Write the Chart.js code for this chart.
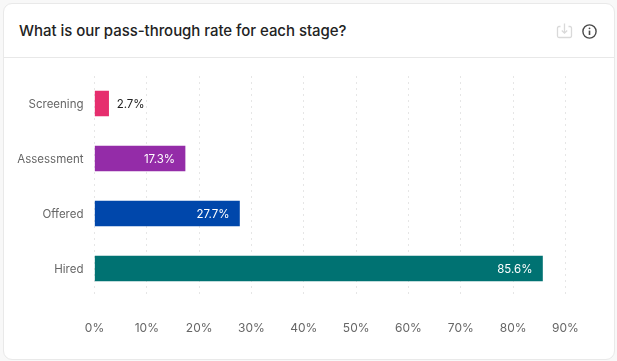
<!DOCTYPE html>
<html>
<head>
<meta charset="utf-8">
<title>Pass-through rate</title>
<script src="https://cdn.jsdelivr.net/npm/chart.js@4"></script>
<style>
  html, body { margin: 0; padding: 0; background: #f8f8f8; }
  #card { position: absolute; left: 2.5px; top: 3px; width: 610px; height: 354.5px; background: #fff;
          border: 1px solid #e9e9e9; border-radius: 9px; }
  #header { position: absolute; left: 0; right: 0; top: 0; height: 53px; border-bottom: 1px solid #e8e8e8; }
  #title { position: absolute; left: 15.5px; top: 17px; font: 500 15px/20px Inter, sans-serif; letter-spacing: -0.05px; color: #222; white-space: nowrap; }
  #download { position: absolute; left: 552px; top: 19px; }
  #info { position: absolute; left: 578.5px; top: 19.5px; }
  #chart { position: absolute; left: 0; top: 0; }
</style>
</head>
<body>
<div id="card">
  <div id="header">
    <div id="title">What is our pass-through rate for each stage?</div>
    <svg id="download" width="17" height="16" viewBox="0 0 17 16" fill="none" stroke="#d9d9d9" stroke-width="1.3">
      <path d="M4.5 3.5 H3 a1.5 1.5 0 0 0 -1.5 1.5 V13 a1.5 1.5 0 0 0 1.5 1.5 H14 a1.5 1.5 0 0 0 1.5 -1.5 V5 A1.5 1.5 0 0 0 14 3.5 H12.5"/>
      <path d="M8.5 0.5 V10 M5.8 7.5 L8.5 10.2 L11.2 7.5"/>
    </svg>
    <svg id="info" width="15" height="15" viewBox="0 0 15 15" fill="none" stroke="#4a4a4a" stroke-width="1.4">
      <circle cx="7.5" cy="7.5" r="6.6"/>
      <path d="M7.5 6.6 V11" stroke-width="1.6"/>
      <circle cx="7.5" cy="4.3" r="0.9" fill="#4a4a4a" stroke="none"/>
    </svg>
  </div>
</div>
<canvas id="chart" width="617" height="361"></canvas>
<script>
// Chart values
const stages = ['Screening', 'Assessment', 'Offered', 'Hired'];
const passRates = [2.7, 17.3, 27.7, 85.6];
const barColors = ['#e62e6e', '#942ca8', '#0047ab', '#007272'];
const tickMax = 90;
const tickStep = 10;

const FONT = 'Inter, sans-serif';

// Writes the percentage inside the bar, or next to it when the bar is too short
const valueLabels = {
  id: 'valueLabels',
  afterDatasetsDraw(chart) {
    const ctx = chart.ctx;
    ctx.save();
    ctx.font = '11.5px ' + FONT;
    ctx.textBaseline = 'middle';
    chart.getDatasetMeta(0).data.forEach((bar, i) => {
      const text = passRates[i].toFixed(1) + '%';
      if (passRates[i] < 5) {
        ctx.fillStyle = '#222';
        ctx.textAlign = 'left';
        ctx.fillText(text, bar.x + 8, bar.y + 1);
      } else {
        ctx.fillStyle = '#fff';
        ctx.textAlign = 'right';
        ctx.fillText(text, bar.x - 10, bar.y + 1);
      }
    });
    ctx.restore();
  }
};

new Chart(document.getElementById('chart'), {
  type: 'bar',
  data: {
    labels: stages,
    datasets: [{
      data: passRates,
      backgroundColor: barColors,
      barThickness: 25,
      borderWidth: 0
    }]
  },
  options: {
    indexAxis: 'y',
    responsive: false,
    animation: false,
    layout: { padding: { top: 76, right: 51.5, bottom: 25, left: 0 } },
    plugins: { legend: { display: false }, tooltip: { enabled: false } },
    scales: {
      x: {
        min: 0,
        max: tickMax,
        afterFit(axis) { axis.height = 40; },
        grid: { color: '#e6e6e6', lineWidth: 1, drawTicks: false },
        border: { display: false, dash: [2, 4] },
        ticks: {
          stepSize: tickStep,
          padding: 25,
          maxRotation: 0,
          color: '#666',
          font: { family: FONT, size: 12 },
          callback: value => value + '%'
        }
      },
      y: {
        afterFit(axis) { axis.width = 94.5; },
        grid: { display: false, drawTicks: false },
        border: { display: false },
        ticks: {
          padding: 11,
          labelOffset: 1,
          color: '#666',
          font: { family: FONT, size: 11.5 }
        }
      }
    }
  },
  plugins: [valueLabels]
});
</script>
</body>
</html>
